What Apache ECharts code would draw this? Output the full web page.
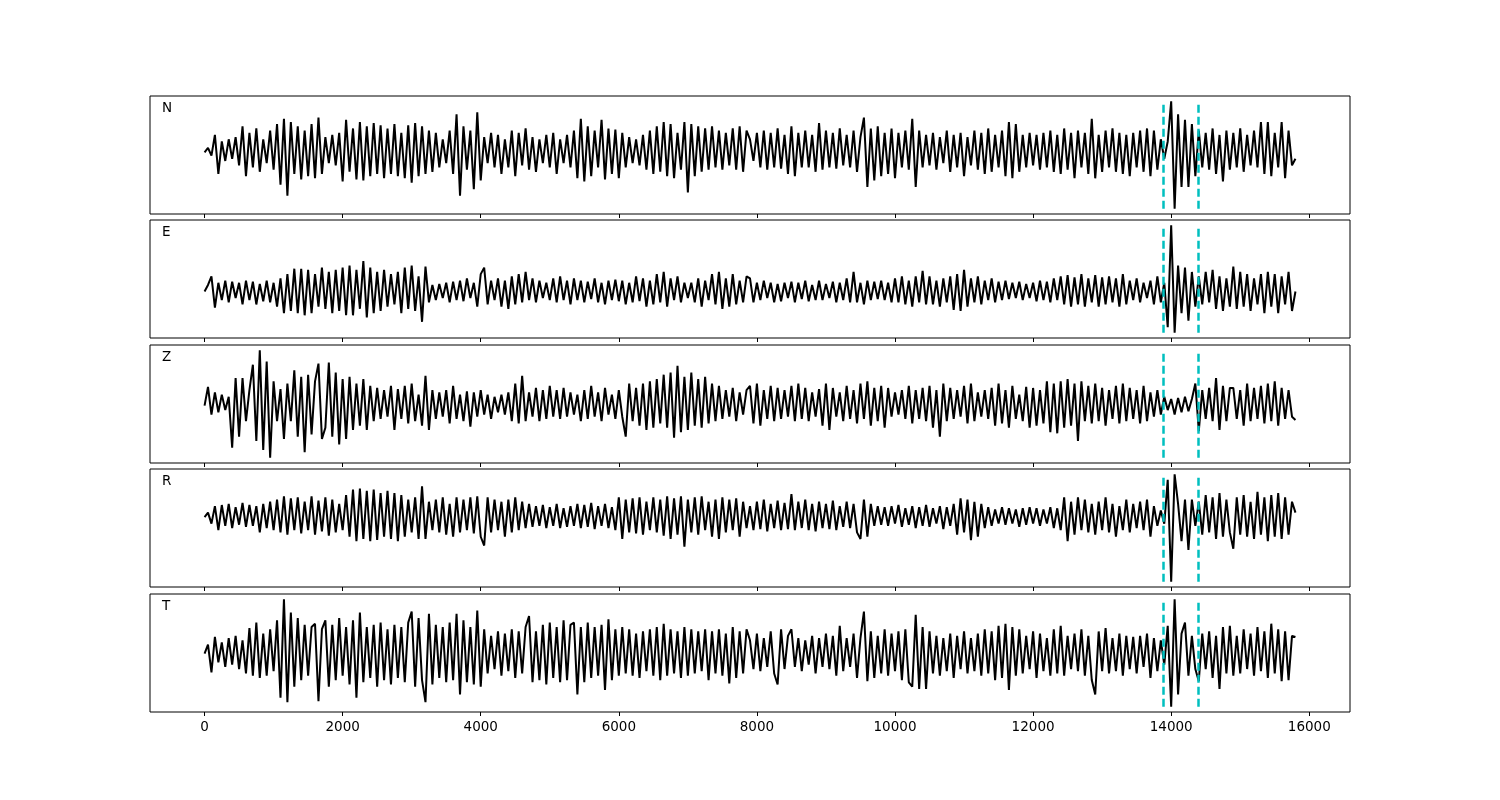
<!DOCTYPE html>
<html>
<head>
<meta charset="utf-8">
<script src="https://cdn.jsdelivr.net/npm/echarts@6/dist/echarts.min.js"></script>
<style>html,body{margin:0;padding:0;background:#fff;}#c{width:1500px;height:800px;}</style>
</head>
<body>
<div id="c"></div>
<script>
// sample spacing (x units per sample)
const dt = 50;
const channels = ['N', 'E', 'Z', 'R', 'T'];
const xTicks = [0, 2000, 4000, 6000, 8000, 10000, 12000, 14000, 16000];
const picks = [13885, 14390];

const traceN = [
0,4,-3,16,-20,10,-8,12,-6,14,
-12,24,-22,18,-14,22,-18,12,-10,20,
-16,26,-30,31,-40,28,-20,24,-25,20,
-22,26,-24,32,-20,14,-10,16,-12,18,
-27,30,-18,22,-25,28,-26,24,-22,27,
-20,25,-24,22,-20,26,-22,18,-24,25,
-28,27,-22,24,-20,20,-18,18,-14,12,
-10,20,-20,35,-40,24,-16,20,-34,37,
-26,14,-10,18,-14,16,-20,12,-14,20,
-22,18,-12,22,-16,14,-18,12,-10,16,
-14,18,-20,12,-10,16,-14,20,-24,31,
-27,24,-22,20,-14,30,-25,22,-20,21,
-24,18,-14,14,-10,12,-12,16,-16,20,
-20,24,-18,28,-22,26,-24,18,-16,28,
-37,26,-22,24,-18,22,-16,24,-14,20,
-16,18,-12,22,-16,24,-18,20,
12,-8,18,-14,20,-16,18,-14,22,-15,
16,-20,24,-22,18,-14,20,-14,16,-18,
27,-16,20,-14,18,-15,22,-12,16,-14,
20,-18,14,32,-32,22,-26,24,-22,18,
-20,22,-24,18,-14,20,-16,31,-32,20,
-14,16,-12,18,-16,14,-10,20,-18,16,
-14,18,-22,14,-12,20,-16,18,-20,22,
-18,16,-14,20,-22,28,-24,26,-18,16,
-14,18,-12,16,-16,18,-14,20,-18,16,
-20,22,-16,18,-24,20,-14,18,-20,31,
-24,16,-18,20,-14,22,-18,18,-20,16,
-22,18,-14,20,-18,22,-22,20,-16,12,
-6,10,47,-52,35,-32,30,-32,26,-22,
20,-14,18,-16,22,-20,16,-27,20,-16,
18,-14,22,-18,16,-12,20,-14,28,-20,
28,-22,18,-14,28,-24,20,-12,-6
];

const traceE = [
0,6,14,-15,8,-8,10,-10,9,-6,
8,-12,10,-8,9,-12,7,-9,10,-10,
8,-14,12,-20,16,-18,21,-20,21,-22,
20,-20,16,-14,22,-16,18,-20,20,-18,
22,-22,24,-22,20,-16,28,-24,22,-20,
18,-18,20,-14,16,-12,18,-20,22,-16,
24,-18,14,-28,23,-10,6,-8,7,-6,
8,-10,9,-8,10,-9,12,-6,8,-14,
16,22,-12,10,-8,12,-14,10,-16,14,
-12,16,-10,18,-8,12,-10,10,-6,8,
-8,12,-10,14,-8,10,-12,12,-8,10,
-10,9,-7,12,-10,8,-12,10,-8,11,
-9,10,-12,8,-10,14,-9,12,-14,10,
-12,16,-10,18,-14,12,-8,14,-10,8,
-6,8,-10,12,-14,10,-8,16,-12,18,
-16,12,-14,16,-12,10,-10,14,
12,-10,8,-8,10,-6,8,-10,7,-9,
8,-6,9,-10,8,-7,10,-9,6,-8,
10,-8,7,-6,9,-10,8,-8,12,-10,
18,-10,8,-12,10,-8,9,-7,10,-8,
8,-10,12,-10,14,-12,10,-14,14,-10,
19,-12,14,-12,10,-14,12,-10,14,-17,
16,-18,20,-14,12,-10,14,-12,10,-8,
12,-10,9,-8,10,-7,8,-6,9,-8,
7,-6,8,-9,10,-8,9,-10,12,-8,
14,-12,15,-14,13,-12,16,-14,12,-10,
15,-14,13,-12,14,-10,12,-14,16,-12,
10,-8,12,-10,8,-6,10,-12,14,-10,
8,-33,61,-38,24,-20,22,-27,18,-14,
14,-12,18,-10,20,-16,14,-18,12,-14,
23,-16,18,-14,16,-18,12,-12,16,-20,
18,-14,16,-20,14,-12,18,-18,0
];

const traceZ = [
0,17,-8,12,-6,10,-4,8,-38,25,
-28,25,-14,14,37,-32,50,-40,40,-47,
22,-14,15,-30,20,-14,32,-28,26,-42,
28,-26,22,38,-30,-20,39,-28,30,-35,
24,-30,26,-22,20,-18,24,-22,18,-14,
16,-12,14,-10,18,-22,15,-12,18,-16,
20,-14,10,-18,27,-22,14,-12,12,-10,
14,-16,18,-12,10,-14,13,-19,12,-10,
14,-8,10,-12,8,-6,10,-8,12,-14,
20,-16,27,-14,12,-10,16,-14,14,-12,
18,-10,14,-12,16,-10,12,-8,10,-14,
14,-12,18,-10,12,-14,16,-8,10,-12,
14,-10,-28,20,-14,16,-18,20,-22,22,
-20,24,-16,28,-20,30,-29,36,-24,26,
-22,30,-18,24,-20,26,-16,20,-14,18,
-12,14,-10,16,-14,12,-8,14,
18,-16,20,-18,14,-12,18,-14,16,-12,
14,-10,18,-14,20,-12,16,-14,12,-10,
15,-18,20,-22,16,-10,12,-14,18,-12,
14,-16,20,-12,22,-18,16,-14,18,-20,
16,-10,12,-8,14,-12,18,-16,14,-12,
16,-14,18,-20,14,-28,20,-14,16,-12,
14,-10,18,-16,20,-14,12,-10,14,-12,
16,-18,20,-16,14,-20,18,-12,10,-14,
17,-20,16,-18,14,-16,22,-24,20,-25,
22,-20,24,-18,20,-32,22,-14,18,-16,
20,-14,16,-18,14,-12,18,-16,20,-14,
16,-12,14,-16,18,-14,12,-10,14,-8,
8,-4,6,-8,7,-6,8,-5,6,20,
-23,14,-12,16,-14,25,-22,18,-14,16,
16,-12,14,-18,20,-14,16,-12,18,-16,
20,-14,22,-18,16,-12,14,-10,-13
];

const traceR = [
0,4,-6,10,-12,11,-8,12,-10,9,
-7,13,-9,11,-8,10,-14,12,-10,14,
-12,16,-14,19,-16,17,-12,18,-15,14,
-12,19,-16,15,-13,18,-17,16,-14,12,
-12,20,-18,25,-22,26,-20,24,-22,25,
-21,22,-18,24,-20,22,-22,20,-18,16,
-14,18,-20,28,-20,14,-12,16,-14,18,
-16,12,-18,18,-14,16,-12,18,-15,19,
-18,-26,18,-14,16,-12,14,-18,16,-14,
18,-12,14,-10,12,-9,10,-8,11,-10,
9,-8,12,-10,8,-9,10,-8,12,-10,
11,-9,13,-11,10,-8,12,-10,9,-12,
18,-20,16,-14,17,-15,18,-16,14,-12,
18,-14,16,-17,19,-20,17,-16,19,-27,
16,-14,18,-16,19,-12,14,-18,16,-20,
18,-14,16,-12,17,-18,14,-10,
10,-12,14,-11,16,-13,12,-10,15,-12,
13,-11,21,-12,14,-10,16,-12,12,-13,
14,-10,12,-11,15,-12,10,-9,14,-10,
12,-14,-20,16,-18,12,-8,10,-7,9,
-8,10,-6,11,-9,8,-7,10,-10,9,
-8,11,-9,8,-6,10,-11,9,-8,12,
-16,17,-14,16,-21,14,-18,12,-10,9,
-8,7,-6,9,-7,8,-6,7,-9,8,
-7,9,-6,8,-8,7,-6,9,-10,8,
-12,18,-22,14,-16,18,-12,16,-14,12,
-16,14,-12,18,-14,12,-18,10,-12,16,
-14,12,-10,14,-12,16,-18,10,-8,6,
-6,34,-59,39,12,-22,16,-30,16,-8,
14,-16,20,-14,18,-20,22,-18,16,-14,
-29,18,-16,20,-18,14,-20,23,-16,18,
-22,20,-18,22,-20,18,-16,14,4
];

const traceT = [
0,8,-17,15,-8,10,-12,14,-10,16,
-14,12,-18,23,-20,28,-22,18,-20,22,
-16,30,-40,49,-44,37,-30,32,-24,26,
-20,24,27,-43,22,30,-30,26,-24,32,
-20,24,-28,30,-40,37,-26,24,-22,26,
-30,28,-24,22,-28,26,-22,24,-26,28,
38,-30,32,-24,-44,36,-28,26,-22,24,
-26,28,-24,36,-37,30,-26,24,-28,39,
-30,22,-18,16,-14,20,-20,18,-16,22,
-22,20,-18,24,34,-26,20,-24,26,-28,
28,-22,24,-26,30,-24,26,28,-37,24,
-26,28,-22,24,-20,26,-33,31,-24,22,
-20,24,-18,22,-20,18,-22,20,-16,22,
-20,24,-24,27,-20,22,-18,20,-22,24,
-20,22,-18,20,-16,22,-24,20,-18,22,
-20,18,-27,24,-22,20,-18,22,
12,-14,18,-16,14,-12,20,-18,-28,22,
-14,16,22,-12,14,-16,12,-10,16,-18,
14,-12,18,-14,16,-20,25,-16,14,-12,
18,-22,14,38,-25,20,-22,16,-18,22,
-20,18,-16,20,-24,22,-26,-30,35,-32,
24,-32,20,-18,16,-20,14,-16,18,-22,
16,-14,20,-18,14,-16,18,-20,22,-18,
20,-24,25,-22,27,-33,24,-20,22,-18,
16,-14,20,-22,18,-16,14,-20,22,-18,
25,-20,16,-14,18,-16,22,-20,16,-24,
-37,20,-16,23,-18,14,-16,18,-20,16,
-14,15,-18,16,-12,18,-22,14,-16,12,
-10,25,-48,49,-37,18,28,-20,16,-14,
-25,18,-14,20,-22,16,-32,24,-18,25,
-20,16,-18,22,-14,18,-20,24,-16,20,
-22,27,-18,22,-25,20,-24,16,15
];

const traces = [traceN, traceE, traceZ, traceR, traceT];
const gridTops = [96, 220, 345, 469, 594];
const gridH = 118;

const grids = [], xAxes = [], yAxes = [], series = [], graphics = [];
traces.forEach((tr, k) => {
  const dmin = Math.min(...tr), dmax = Math.max(...tr);
  const pad = 0.05 * (dmax - dmin);
  grids.push({left: 150, width: 1200, top: gridTops[k], height: gridH,
    show: true, borderColor: '#000', borderWidth: 1, backgroundColor: 'transparent'});
  const last = k === traces.length - 1;
  xAxes.push({type: 'value', gridIndex: k, min: -790, max: 16590, position: 'bottom',
    axisLine: {show: false, onZero: false},
    splitLine: {show: false},
    axisTick: {show: true, inside: false, length: 4, customValues: xTicks, lineStyle: {color: '#000', width: 1}},
    axisLabel: {show: last, customValues: xTicks, margin: 8, color: '#000', fontSize: 13.5,
      fontFamily: 'DejaVu Sans', formatter: v => String(v)}
  });
  yAxes.push({type: 'value', gridIndex: k, min: dmin - pad, max: dmax + pad,
    axisLine: {show: false, onZero: false}, axisTick: {show: false}, axisLabel: {show: false}, splitLine: {show: false}});
  series.push({type: 'line', xAxisIndex: k, yAxisIndex: k,
    data: tr.map((v, i) => [i * dt, v]),
    showSymbol: false, symbol: 'none', sampling: null, animation: false,
    lineStyle: {color: '#000', width: 2}, z: 2,
    markLine: {silent: true, symbol: ['none', 'none'], label: {show: false}, animation: false,
      lineStyle: {color: '#00BFBF', width: 2.5, type: [8, 4]},
      data: picks.map(p => [{coord: [p, dmin]}, {coord: [p, dmax]}])}
  });
  graphics.push({type: 'text', left: 162, top: gridTops[k] + 5,
    style: {text: channels[k], fill: '#000', font: '13.5px "DejaVu Sans"'}});
});

const chart = echarts.init(document.getElementById('c'), null, {renderer: 'canvas'});
chart.setOption({
  animation: false,
  backgroundColor: '#fff',
  grid: grids, xAxis: xAxes, yAxis: yAxes, series: series, graphic: graphics
});
</script>
</body>
</html>
